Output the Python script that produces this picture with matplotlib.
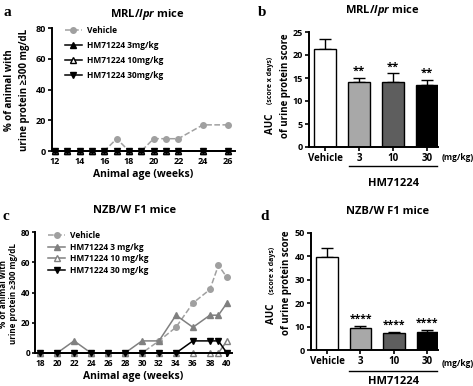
import matplotlib
matplotlib.use("Agg")
import matplotlib.pyplot as plt
from matplotlib.lines import Line2D

FONT = ['Open Sans', 'DejaVu Sans']
plt.rcParams['font.family'] = FONT
plt.rcParams['font.weight'] = 'bold'
plt.rcParams['mathtext.fontset'] = 'custom'
plt.rcParams['mathtext.rm'] = 'Open Sans:bold'
plt.rcParams['mathtext.it'] = 'Open Sans:italic:bold'

# ---- data ----
weeks_a = [12, 13, 14, 15, 16, 17, 18, 19, 20, 21, 22, 24, 26]
vehicle_a = [0, 0, 0, 0, 0, 8, 0, 0, 8, 8, 8, 17, 17]
dose3_a = [0] * 13
dose10_a = [0] * 13
dose30_a = [0] * 13

weeks_c = [18, 20, 22, 24, 26, 28, 30, 32, 34, 36, 38, 39, 40]
vehicle_c = [0, 0, 0, 0, 0, 0, 0, 8, 17, 33, 42, 58, 50]
dose3_c = [0, 0, 8, 0, 0, 0, 8, 8, 25, 17, 25, 25, 33]
dose10_c = [0, 0, 0, 0, 0, 0, 0, 0, 0, 0, 0, 0, 8]
dose30_c = [0, 0, 0, 0, 0, 0, 0, 0, 0, 8, 8, 8, 0]

groups = ['Vehicle', '3', '10', '30']
auc_b = [21.3, 14.1, 14.2, 13.4]
err_b = [2.2, 0.9, 1.8, 1.2]
stars_b = ['', '**', '**', '**']
auc_d = [39.8, 9.2, 7.2, 7.8]
err_d = [3.6, 0.9, 0.6, 0.6]
stars_d = ['', '****', '****', '****']
bar_colors = ['white', '#a8a8a8', '#5e5e5e', 'black']

W, H = 473, 386
fig = plt.figure(figsize=(W / 100, H / 100), dpi=100)


def px_axes(l, t, r, b):
    return fig.add_axes([l / W, 1 - b / H, (r - l) / W, (b - t) / H])


def style_axes(ax, fs):
    for s in ['top', 'right']:
        ax.spines[s].set_visible(False)
    for s in ['left', 'bottom']:
        ax.spines[s].set_linewidth(1.4)
    ax.tick_params(width=1.2, length=3, labelsize=fs, pad=1.5)
    for lab in ax.get_xticklabels() + ax.get_yticklabels():
        lab.set_fontweight('bold')


def line_panel(ax, weeks, veh, d3, d10, d30, labels, c3, c10, anchor_y, spacing, fs):
    kw = dict(ms=4, clip_on=False, lw=1.1)
    ax.plot(weeks, veh, '--o', color='#a0a0a0', label=labels[0], **kw)
    ax.plot(weeks, d3, '-^', color=c3, label=labels[1], **kw)
    ax.plot(weeks, d10, '-^', color=c10, mfc='white', mec=c10, mew=1.0,
            label=labels[2], **kw)
    ax.plot(weeks, d30, '-v', color='black', label=labels[3], **kw)
    ax.set_ylim(0, 80)
    ax.set_yticks([0, 20, 40, 60, 80])
    ax.set_xlabel('Animal age (weeks)', fontsize=7.5, fontweight='bold', labelpad=2)
    style_axes(ax, fs)
    ax.legend(loc='upper left', bbox_to_anchor=(0.03, anchor_y), frameon=False,
              handlelength=2.0, labelspacing=spacing, handletextpad=0.6,
              prop={'weight': 'bold', 'size': 6})


def bar_panel(ax, vals, errs, stars, ymax, step, star_fs):
    x = list(range(len(groups)))
    ax.bar(x, vals, width=0.64, color=bar_colors, edgecolor='black', lw=1.0, zorder=2)
    ax.errorbar(x, vals, yerr=[[0] * len(errs), errs], fmt='none', ecolor='black',
                elinewidth=1.0, capsize=4, capthick=1.0, zorder=1)
    for xi, v, e, s in zip(x, vals, errs, stars):
        if s:
            ax.text(xi, v + e + ymax * 0.01, s, ha='center', va='bottom',
                    fontsize=star_fs, fontweight='bold')
    ax.set_xlim(-0.48, 3.32)
    ax.set_ylim(0, ymax)
    ax.set_yticks(range(0, ymax + 1, step))
    ax.set_xticks(x)
    ax.set_xticklabels(groups)
    style_axes(ax, 6.5)
    ax.tick_params(axis='x', length=3, labelsize=7)


# ---- panel a ----
ax_a = px_axes(52, 28, 235, 151)
line_panel(ax_a, weeks_a, vehicle_a, dose3_a, dose10_a, dose30_a,
           ['Vehicle', 'HM71224 3mg/kg', 'HM71224 10mg/kg', 'HM71224 30mg/kg'],
           'black', 'black', 1.08, 0.75, 6.5)
ax_a.set_xlim(11.75, 26.6)
ax_a.set_xticks(range(12, 27, 2))

# ---- panel c ----
ax_c = px_axes(35, 232, 232, 353)
line_panel(ax_c, weeks_c, vehicle_c, dose3_c, dose10_c, dose30_c,
           ['Vehicle', 'HM71224 3 mg/kg', 'HM71224 10 mg/kg', 'HM71224 30 mg/kg'],
           '#808080', '#808080', 1.07, 0.3, 6)
ax_c.set_xlim(17.4, 40.6)
ax_c.set_xticks(range(18, 41, 2))
ax_c.tick_params(axis='y', length=2.5, pad=1)

# ---- panel b ----
ax_b = px_axes(309, 32, 438, 147)
bar_panel(ax_b, auc_b, err_b, stars_b, 25, 5, 8)

# ---- panel d ----
ax_d = px_axes(311, 233, 438, 350)
bar_panel(ax_d, auc_d, err_d, stars_d, 50, 10, 7.5)

# ---- texts ----
for x, y, s in [(3, 12, 'a'), (258, 12, 'b'), (2, 216, 'c'), (260, 216, 'd')]:
    fig.text(x / W, 1 - y / H, s, fontsize=11, fontweight='bold',
             family='Liberation Serif', va='center', ha='left')

for x, y, s in [(147, 15, r'MRL/$\mathit{lpr}$ mice'), (382, 11, r'MRL/$\mathit{lpr}$ mice'),
                (135, 210, 'NZB/W F1 mice'), (388, 212, 'NZB/W F1 mice')]:
    fig.text(x / W, 1 - y / H, s, fontsize=8, fontweight='bold', ha='center', va='center')

# y labels of line panels
for x1, x2, yc, fs in [(10, 25, 90, 7), (4, 14, 294, 5.8)]:
    fig.text(x1 / W, 1 - yc / H, '% of animal with', rotation=90, fontsize=fs,
             fontweight='bold', ha='center', va='center')
    fig.text(x2 / W, 1 - yc / H, 'urine protein \u2265300 mg/dL', rotation=90, fontsize=fs,
             fontweight='bold', ha='center', va='center')

# y labels of bar panels
for x1, x2, y_auc, y_small, y2 in [(270, 285, 124, 80, 86), (272, 286, 314, 270, 283)]:
    fig.text(x1 / W, 1 - y_auc / H, 'AUC', rotation=90, fontsize=7,
             fontweight='bold', ha='center', va='center')
    fig.text(x1 / W, 1 - y_small / H, '(score x days)', rotation=90, fontsize=5,
             fontweight='bold', ha='center', va='center')
    fig.text(x2 / W, 1 - y2 / H, 'of urine protein score', rotation=90, fontsize=7,
             fontweight='bold', ha='center', va='center')

# mg/kg and HM71224 group annotations
for y_mg, y_line, y_hm in [(157, 166, 183), (363, 371, 381)]:
    fig.text(442 / W, 1 - y_mg / H, '(mg/kg)', fontsize=6, fontweight='bold',
             ha='left', va='center')
    fig.add_artist(Line2D([349 / W, 437 / W], [1 - y_line / H, 1 - y_line / H],
                          color='black', lw=1.0))
    fig.text(393 / W, 1 - y_hm / H, 'HM71224', fontsize=8, fontweight='bold',
             ha='center', va='center')

fig.savefig('out.png', dpi=100)
